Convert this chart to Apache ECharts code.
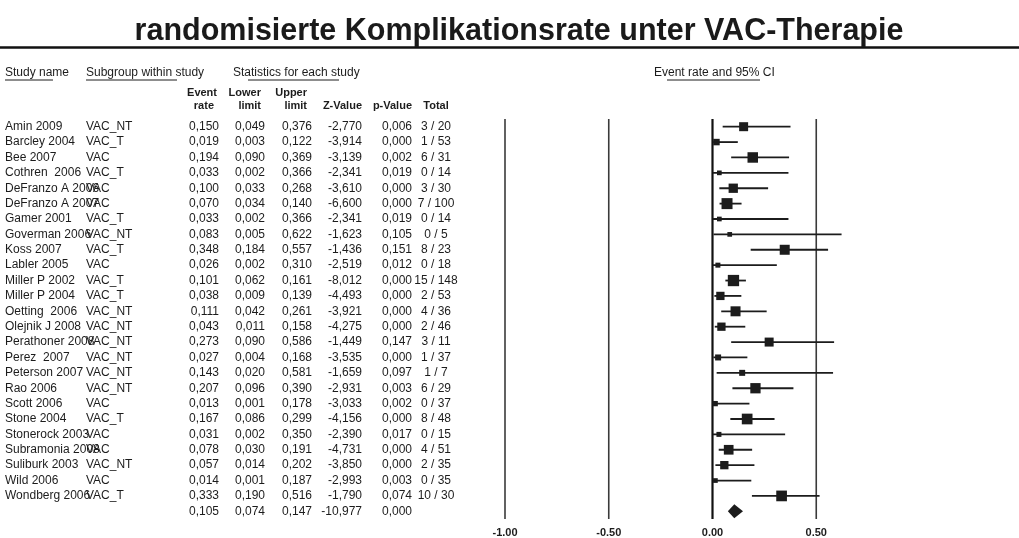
<!DOCTYPE html>
<html>
<head>
<meta charset="utf-8">
<script src="https://cdn.jsdelivr.net/npm/echarts@6/dist/echarts.min.js"></script>
<style>
  html, body { margin: 0; padding: 0; background: #fff; }
  #chart { width: 1019px; height: 538px; }
</style>
</head>
<body>
<div id="chart"></div>
<script>
// Studies included in the meta-analysis
const studyNames = [
  'Amin 2009', 'Barcley 2004', 'Bee 2007', 'Cothren  2006', 'DeFranzo A 2006',
  'DeFranzo A 2007', 'Gamer 2001', 'Goverman 2006', 'Koss 2007', 'Labler 2005',
  'Miller P 2002', 'Miller P 2004', 'Oetting  2006', 'Olejnik J 2008', 'Perathoner 2008',
  'Perez  2007', 'Peterson 2007', 'Rao 2006', 'Scott 2006', 'Stone 2004',
  'Stonerock 2003', 'Subramonia 2008', 'Suliburk 2003', 'Wild 2006', 'Wondberg 2006'
];
const subgroups = [
  'VAC_NT', 'VAC_T', 'VAC', 'VAC_T', 'VAC',
  'VAC', 'VAC_T', 'VAC_NT', 'VAC_T', 'VAC',
  'VAC_T', 'VAC_T', 'VAC_NT', 'VAC_NT', 'VAC_NT',
  'VAC_NT', 'VAC_NT', 'VAC_NT', 'VAC', 'VAC_T',
  'VAC', 'VAC', 'VAC_NT', 'VAC', 'VAC_T'
];
const eventRate = [
  0.150, 0.019, 0.194, 0.033, 0.100, 0.070, 0.033, 0.083, 0.348, 0.026,
  0.101, 0.038, 0.111, 0.043, 0.273, 0.027, 0.143, 0.207, 0.013, 0.167,
  0.031, 0.078, 0.057, 0.014, 0.333
];
const lowerLimit = [
  0.049, 0.003, 0.090, 0.002, 0.033, 0.034, 0.002, 0.005, 0.184, 0.002,
  0.062, 0.009, 0.042, 0.011, 0.090, 0.004, 0.020, 0.096, 0.001, 0.086,
  0.002, 0.030, 0.014, 0.001, 0.190
];
const upperLimit = [
  0.376, 0.122, 0.369, 0.366, 0.268, 0.140, 0.366, 0.622, 0.557, 0.310,
  0.161, 0.139, 0.261, 0.158, 0.586, 0.168, 0.581, 0.390, 0.178, 0.299,
  0.350, 0.191, 0.202, 0.187, 0.516
];
const zValue = [
  -2.770, -3.914, -3.139, -2.341, -3.610, -6.600, -2.341, -1.623, -1.436, -2.519,
  -8.012, -4.493, -3.921, -4.275, -1.449, -3.535, -1.659, -2.931, -3.033, -4.156,
  -2.390, -4.731, -3.850, -2.993, -1.790
];
const pValue = [
  0.006, 0.000, 0.002, 0.019, 0.000, 0.000, 0.019, 0.105, 0.151, 0.012,
  0.000, 0.000, 0.000, 0.000, 0.147, 0.000, 0.097, 0.003, 0.002, 0.000,
  0.017, 0.000, 0.000, 0.003, 0.074
];
const events = [3, 1, 6, 0, 3, 7, 0, 0, 8, 0, 15, 2, 4, 2, 3, 1, 1, 6, 0, 8, 0, 4, 2, 0, 10];
const totals = [20, 53, 31, 14, 30, 100, 14, 5, 23, 18, 148, 53, 36, 46, 11, 37, 7, 29, 37, 48, 15, 51, 35, 35, 30];
// relative weights (%) -> area of each study's box
const weights = [
  4.70, 2.45, 6.40, 1.28, 5.02, 7.02, 1.28, 1.28, 5.80, 1.45,
  7.41, 4.00, 5.80, 4.00, 4.70, 2.09, 2.09, 6.15, 1.63, 6.64,
  1.45, 5.46, 4.00, 1.28, 6.64
];
// pooled estimate
const pooled = { rate: 0.105, lower: 0.074, upper: 0.147, z: -10.977, p: 0.000 };
// x-axis ticks
const xTicks = [-1.0, -0.5, 0.0, 0.5];

const FONT = '"Liberation Sans", Arial, Helvetica, sans-serif';
const INK = '#1c1c1c';
const nRows = studyNames.length + 1;
const rowKeys = Array.from({ length: nRows }, (_, i) => 'r' + i);
const fmt = v => v.toFixed(3).replace('.', ',');

// table column anchors (right edges of values; total is centred)
const COL = { name: 5, sub: 86, rate: 219, lower: 265, upper: 312, z: 362, p: 412, total: 436 };
// header anchors (right edges)
const HEAD = { rate: 217, lower: 261, upper: 307, z: 362, p: 412, total: 436 };

const chart = echarts.init(document.getElementById('chart'), null, { renderer: 'canvas' });

function txt(text, x, y, align, opts) {
  return {
    type: 'text',
    style: Object.assign({
      text: text, x: x, y: y, align: align, verticalAlign: 'middle',
      fill: INK, font: '12px ' + FONT
    }, opts || {})
  };
}

const headerGraphics = [
  { type: 'line', shape: { x1: 0, y1: 47.5, x2: 1019, y2: 47.5 }, style: { stroke: '#111', lineWidth: 2.5 } },
  txt('Study name', COL.name, 73, 'left'),
  txt('Subgroup within study', COL.sub, 73, 'left'),
  txt('Statistics for each study', 233, 73, 'left'),
  txt('Event rate and 95% CI', 654, 73, 'left'),
  { type: 'line', shape: { x1: 5, y1: 80, x2: 53, y2: 80 }, style: { stroke: INK, lineWidth: 1 } },
  { type: 'line', shape: { x1: 86, y1: 80, x2: 177, y2: 80 }, style: { stroke: INK, lineWidth: 1 } },
  { type: 'line', shape: { x1: 248, y1: 80, x2: 339, y2: 80 }, style: { stroke: INK, lineWidth: 1 } },
  { type: 'line', shape: { x1: 667, y1: 80, x2: 760, y2: 80 }, style: { stroke: INK, lineWidth: 1 } }
];
const HB = { font: 'bold 11px ' + FONT };
[
  ['Event', HEAD.rate, 93], ['rate', HEAD.rate - 3, 106],
  ['Lower', HEAD.lower, 93], ['limit', HEAD.lower, 106],
  ['Upper', HEAD.upper, 93], ['limit', HEAD.upper, 106],
  ['Z-Value', HEAD.z, 106], ['p-Value', HEAD.p, 106]
].forEach(h => headerGraphics.push(txt(h[0], h[1], h[2], 'right', HB)));
headerGraphics.push(txt('Total', HEAD.total, 106, 'center', HB));

const option = {
  animation: false,
  backgroundColor: '#fff',
  title: {
    text: 'randomisierte Komplikationsrate unter VAC-Therapie',
    left: 514, top: 11, textAlign: 'center',
    textStyle: { fontFamily: FONT, fontSize: 30.5, fontWeight: 'bold', color: '#1a1a1a' }
  },
  graphic: headerGraphics,
  grid: { left: 505, right: 99, top: 119, height: 403, containLabel: false },
  xAxis: {
    type: 'value', min: -1, max: 1, interval: 0.5,
    axisLine: { show: false }, axisTick: { show: false }, splitLine: { show: false },
    axisLabel: {
      margin: 8, color: INK, fontFamily: FONT, fontSize: 11, fontWeight: 'bold',
      formatter: v => (xTicks.some(t => Math.abs(t - v) < 1e-9) ? v.toFixed(2) : '')
    }
  },
  yAxis: { type: 'category', data: rowKeys, inverse: true, show: false },
  series: [
    {
      // vertical reference lines at each tick
      type: 'custom', name: 'ref',
      data: xTicks.map(t => [t, 0]),
      renderItem: (params, api) => {
        const cs = params.coordSys;
        const x = api.coord([api.value(0), 0])[0];
        const zero = Math.abs(api.value(0)) < 1e-9;
        return {
          type: 'line',
          shape: { x1: x, y1: cs.y, x2: x, y2: cs.y + cs.height },
          style: { stroke: zero ? '#111' : '#3a3a3a', lineWidth: zero ? 2.2 : 1.6 }
        };
      },
      z: 1
    },
    {
      // study estimates with 95% CI
      type: 'custom', name: 'studies',
      data: eventRate.map((r, i) => [r, i, lowerLimit[i], upperLimit[i], weights[i]]),
      encode: { x: 0, y: 1 },
      renderItem: (params, api) => {
        const i = api.value(1);
        const c = api.coord([api.value(0), i]);
        const lo = api.coord([api.value(2), i]);
        const hi = api.coord([api.value(3), i]);
        const s = 4.15 * Math.sqrt(api.value(4));
        return {
          type: 'group',
          children: [
            { type: 'line', shape: { x1: lo[0], y1: c[1], x2: hi[0], y2: c[1] }, style: { stroke: INK, lineWidth: 1.8 } },
            { type: 'rect', shape: { x: c[0] - s / 2, y: c[1] - s / 2, width: s, height: s }, style: { fill: INK } }
          ]
        };
      },
      z: 3
    },
    {
      // pooled estimate diamond
      type: 'custom', name: 'pooled',
      data: [[pooled.rate, nRows - 1, pooled.lower, pooled.upper]],
      encode: { x: 0, y: 1 },
      renderItem: (params, api) => {
        const i = api.value(1);
        const c = api.coord([api.value(0), i]);
        const lo = api.coord([api.value(2), i]);
        const hi = api.coord([api.value(3), i]);
        const h = 7;
        return {
          type: 'polygon',
          shape: { points: [[lo[0], c[1]], [c[0], c[1] - h], [hi[0], c[1]], [c[0], c[1] + h]] },
          style: { fill: INK }
        };
      },
      z: 3
    },
    {
      // statistics table, one row per study plus the pooled row
      type: 'custom', name: 'table',
      data: rowKeys.map((k, i) => [0, i]),
      encode: { x: 0, y: 1 },
      silent: true,
      renderItem: (params, api) => {
        const i = api.value(1);
        const y = api.coord([0, i])[1];
        if (i < studyNames.length) {
          return {
            type: 'group',
            children: [
              txt(studyNames[i], COL.name, y, 'left'),
              txt(subgroups[i], COL.sub, y, 'left'),
              txt(fmt(eventRate[i]), COL.rate, y, 'right'),
              txt(fmt(lowerLimit[i]), COL.lower, y, 'right'),
              txt(fmt(upperLimit[i]), COL.upper, y, 'right'),
              txt(fmt(zValue[i]), COL.z, y, 'right'),
              txt(fmt(pValue[i]), COL.p, y, 'right'),
              txt(events[i] + ' / ' + totals[i], COL.total, y, 'center')
            ]
          };
        }
        return {
          type: 'group',
          children: [
            txt(fmt(pooled.rate), COL.rate, y, 'right'),
            txt(fmt(pooled.lower), COL.lower, y, 'right'),
            txt(fmt(pooled.upper), COL.upper, y, 'right'),
            txt(fmt(pooled.z), COL.z, y, 'right'),
            txt(fmt(pooled.p), COL.p, y, 'right')
          ]
        };
      },
      z: 2
    }
  ]
};

chart.setOption(option);
</script>
</body>
</html>
